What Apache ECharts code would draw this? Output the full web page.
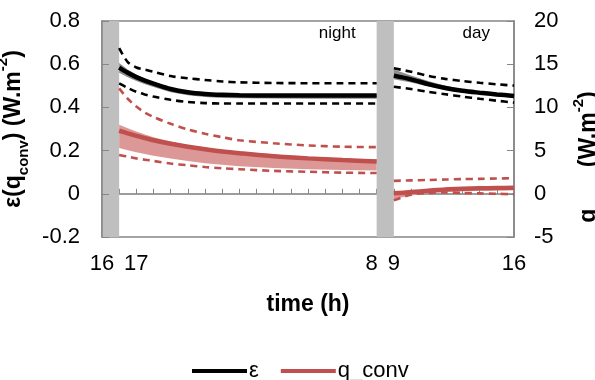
<!DOCTYPE html>
<html>
<head>
<meta charset="utf-8">
<script src="https://cdn.jsdelivr.net/npm/echarts@6/dist/echarts.min.js"></script>
<style>html,body{margin:0;padding:0;background:#fff;}#c{width:595px;height:380px;}</style>
</head>
<body>
<div id="c"></div>
<script>
// hours counted from 16:00
const nightHours = [1, 1.5, 2, 2.5, 3, 4, 5, 6, 7, 8, 10, 12, 14, 16];
const dayHours = [17, 18, 19, 20, 21, 22, 23, 24];

// epsilon (left axis)
const epsNight       = [0.584, 0.56, 0.54, 0.524, 0.51, 0.485, 0.47, 0.462, 0.458, 0.456, 0.455, 0.455, 0.455, 0.455];
const epsNightUp     = [0.674, 0.61, 0.585, 0.575, 0.565, 0.545, 0.535, 0.527, 0.52, 0.516, 0.513, 0.512, 0.512, 0.512];
const epsNightLow    = [0.511, 0.49, 0.472, 0.46, 0.45, 0.435, 0.425, 0.42, 0.418, 0.418, 0.418, 0.418, 0.418, 0.418];
const epsNightBandHi = [0.605, 0.575, 0.552, 0.533, 0.518, 0.492, 0.476, 0.467, 0.462, 0.46, 0.458, 0.458, 0.458, 0.458];
const epsNightBandLo = [0.56, 0.54, 0.522, 0.507, 0.494, 0.47, 0.456, 0.448, 0.444, 0.442, 0.441, 0.44, 0.44, 0.44];

const epsDay       = [0.547, 0.53, 0.508, 0.49, 0.477, 0.468, 0.46, 0.453];
const epsDayUp     = [0.581, 0.565, 0.546, 0.532, 0.522, 0.514, 0.507, 0.501];
const epsDayLow    = [0.496, 0.485, 0.472, 0.461, 0.45, 0.44, 0.431, 0.422];
const epsDayBandHi = [0.575, 0.548, 0.522, 0.5, 0.485, 0.475, 0.466, 0.458];
const epsDayBandLo = [0.53, 0.515, 0.497, 0.48, 0.469, 0.46, 0.452, 0.445];

// q_conv in W.m-2 (right axis)
const qNight       = [7.3, 7.0, 6.7, 6.45, 6.2, 5.8, 5.45, 5.15, 4.9, 4.7, 4.35, 4.1, 3.9, 3.75];
const qNightUp     = [12.2, 11.0, 10.1, 9.4, 8.9, 8.1, 7.45, 6.95, 6.55, 6.2, 5.85, 5.6, 5.45, 5.4];
const qNightLow    = [4.5, 4.3, 4.1, 3.95, 3.8, 3.5, 3.3, 3.1, 2.95, 2.85, 2.65, 2.55, 2.45, 2.4];
const qNightBandHi = [8.0, 7.6, 7.2, 6.85, 6.55, 6.05, 5.65, 5.35, 5.1, 4.9, 4.55, 4.3, 4.1, 4.0];
const qNightBandLo = [5.3, 5.05, 4.8, 4.6, 4.4, 4.1, 3.8, 3.55, 3.35, 3.2, 3.0, 2.85, 2.75, 2.7];

const qDay       = [0.05, 0.2, 0.35, 0.5, 0.58, 0.63, 0.67, 0.7];
const qDayUp     = [1.5, 1.55, 1.6, 1.65, 1.7, 1.73, 1.77, 1.8];
const qDayLow    = [-0.75, -0.1, 0.1, 0.15, 0.1, 0.05, 0.0, -0.05];
const qDayBandHi = [0.25, 0.35, 0.45, 0.55, 0.62, 0.66, 0.7, 0.72];
const qDayBandLo = [-0.6, -0.2, 0.05, 0.2, 0.3, 0.35, 0.38, 0.4];

// x tick labels
const xTickLabels = {0: '16', 1: '17', 16: '8', 17: '9', 24: '16'};
const periodLabels = [{name: 'night', x: 13.7, y: 0.745}, {name: 'day', x: 21.8, y: 0.745}];
const shadedPeriods = [[0, 1], [16, 17]];

const FONT = 'Liberation Sans, Arial, sans-serif';
const BLACK = '#000000', RED = '#c0504d', GREYBAND = '#8c8c8c', PINK = '#dc9897';

function zip(xs, ys) { return xs.map((x, i) => [x, ys[i]]); }

const series = [];
function band(xs, lo, hi, yAxisIndex, color) {
  series.push({
    type: 'custom', yAxisIndex, silent: true, z: 2,
    data: xs.map((x, i) => [x, lo[i], hi[i]]),
    encode: {x: 0, y: [1, 2]},
    renderItem: (params, api) => {
      if (params.dataIndex !== 0) return null;
      const top = xs.map((x, i) => api.coord([x, hi[i]]));
      const bot = xs.map((x, i) => api.coord([x, lo[i]])).reverse();
      return {type: 'polygon', shape: {points: top.concat(bot)}, style: {fill: color}};
    }
  });
}
function dashed(xs, ys, yAxisIndex, color) {
  series.push({
    type: 'line', yAxisIndex, data: zip(xs, ys), symbol: 'none', smooth: 0.3,
    lineStyle: {color, width: 2.6, type: [7, 5]}, silent: true, z: 3
  });
}
function solid(name, xs, ys, yAxisIndex, color) {
  series.push({
    name, type: 'line', yAxisIndex, data: zip(xs, ys), symbol: 'none', smooth: 0.3,
    color, lineStyle: {color, width: 4.5}, z: 4
  });
}

band(nightHours, epsNightBandLo, epsNightBandHi, 0, GREYBAND);
band(dayHours, epsDayBandLo, epsDayBandHi, 0, GREYBAND);
band(nightHours, qNightBandLo, qNightBandHi, 1, PINK);
band(dayHours, qDayBandLo, qDayBandHi, 1, PINK);
dashed(nightHours, epsNightUp, 0, BLACK);
dashed(nightHours, epsNightLow, 0, BLACK);
dashed(dayHours, epsDayUp, 0, BLACK);
dashed(dayHours, epsDayLow, 0, BLACK);
dashed(nightHours, qNightUp, 1, RED);
dashed(nightHours, qNightLow, 1, RED);
dashed(dayHours, qDayUp, 1, RED);
dashed(dayHours, qDayLow, 1, RED);
solid('q_conv', nightHours, qNight, 1, RED);
solid('q_conv', dayHours, qDay, 1, RED);
solid('ε', nightHours, epsNight, 0, BLACK);
solid('ε', dayHours, epsDay, 0, BLACK);

// grey shaded periods + annotations
series.push({
  type: 'line', data: [], yAxisIndex: 0, silent: true, z: 1,
  markArea: {silent: true, itemStyle: {color: '#bfbfbf'},
    data: shadedPeriods.map(p => [{xAxis: p[0]}, {xAxis: p[1]}])},
  markPoint: {symbol: 'circle', symbolSize: 0, silent: true,
    label: {show: true, formatter: p => p.name, color: '#000', fontSize: 17, fontFamily: FONT},
    data: periodLabels.map(p => ({name: p.name, coord: [p.x, p.y]}))}
});

const titleRich = {
  m: {fontSize: 23, fontWeight: 'bold', fontFamily: FONT, color: '#000', lineHeight: 36},
  s: {fontSize: 15, fontWeight: 'bold', fontFamily: FONT, color: '#000', verticalAlign: 'bottom', lineHeight: 17},
  p: {fontSize: 15, fontWeight: 'bold', fontFamily: FONT, color: '#000', verticalAlign: 'top', lineHeight: 17}
};

const axisGrey = '#868686';
const chart = echarts.init(document.getElementById('c'), null, {renderer: 'canvas'});
chart.setOption({
  animation: false,
  backgroundColor: '#fff',
  textStyle: {fontFamily: FONT},
  grid: {left: 102, right: 81, top: 21, bottom: 143, show: true, borderColor: axisGrey, borderWidth: 1.5,
         containLabel: false, outerBoundsMode: 'none'},
  legend: {
    data: ['ε', 'q_conv'], left: 187, top: 355, icon: 'rect', itemWidth: 55, itemHeight: 4, itemGap: 22,
    textStyle: {fontSize: 22, fontFamily: FONT, color: '#000', padding: [0, 0, 0, -3]}
  },
  xAxis: {
    type: 'value', min: 0, max: 24, interval: 1,
    axisLine: {lineStyle: {color: axisGrey, width: 1.5}},
    axisTick: {inside: true, length: 5, lineStyle: {color: axisGrey, width: 1}},
    splitLine: {show: false},
    axisLabel: {
      margin: 16, fontSize: 22, color: '#000', fontFamily: FONT,
      formatter: v => {
        const t = xTickLabels[v];
        if (t === undefined) return '';
        if (v === 1) return '{r|' + t + '}';
        if (v === 16) return '{l|' + t + '}';
        return t;
      },
      rich: {r: {fontSize: 22, fontFamily: FONT, color: '#000', padding: [0, 0, 0, 34]},
             l: {fontSize: 22, fontFamily: FONT, color: '#000', padding: [0, 10, 0, 0]}}
    },
    name: 'time (h)', nameLocation: 'middle', nameGap: 56,
    nameTextStyle: {fontSize: 23, fontWeight: 'bold', color: '#000', fontFamily: FONT}
  },
  yAxis: [{
    type: 'value', min: -0.2, max: 0.8, interval: 0.2, position: 'left', z: 10,
    axisLine: {show: true, lineStyle: {color: axisGrey, width: 1.5}},
    axisTick: {show: true, inside: true, length: 7, lineStyle: {color: axisGrey, width: 1}},
    splitLine: {show: false},
    axisLabel: {margin: 22, fontSize: 22, color: '#000', fontFamily: FONT,
      formatter: v => (Math.round(v * 10) / 10).toString()},
    name: '{m|ε(q}{s|conv}{m|) (W.m}{p|-2}{m|)}', nameLocation: 'middle', nameRotate: 90, nameGap: 53,
    nameTextStyle: {rich: titleRich}
  }, {
    type: 'value', min: -5, max: 20, interval: 5, position: 'right',
    axisLine: {show: true, lineStyle: {color: axisGrey, width: 1.5}},
    axisTick: {show: true, inside: true, length: 7, lineStyle: {color: axisGrey, width: 1}},
    splitLine: {show: true, lineStyle: {color: ['rgba(0,0,0,0)', '#d9d9d9', 'rgba(0,0,0,0)', 'rgba(0,0,0,0)', 'rgba(0,0,0,0)', 'rgba(0,0,0,0)'], width: 1.5}},
    axisLabel: {margin: 20, fontSize: 22, color: '#000', fontFamily: FONT},
    name: '{m|q}{s|conv}{m| (W.m}{p|-2}{m|)}', nameLocation: 'middle', nameRotate: 90, nameGap: 57,
    nameTextStyle: {rich: titleRich, padding: [0, 56, 0, 0]}
  }],
  series
});
</script>
</body>
</html>
